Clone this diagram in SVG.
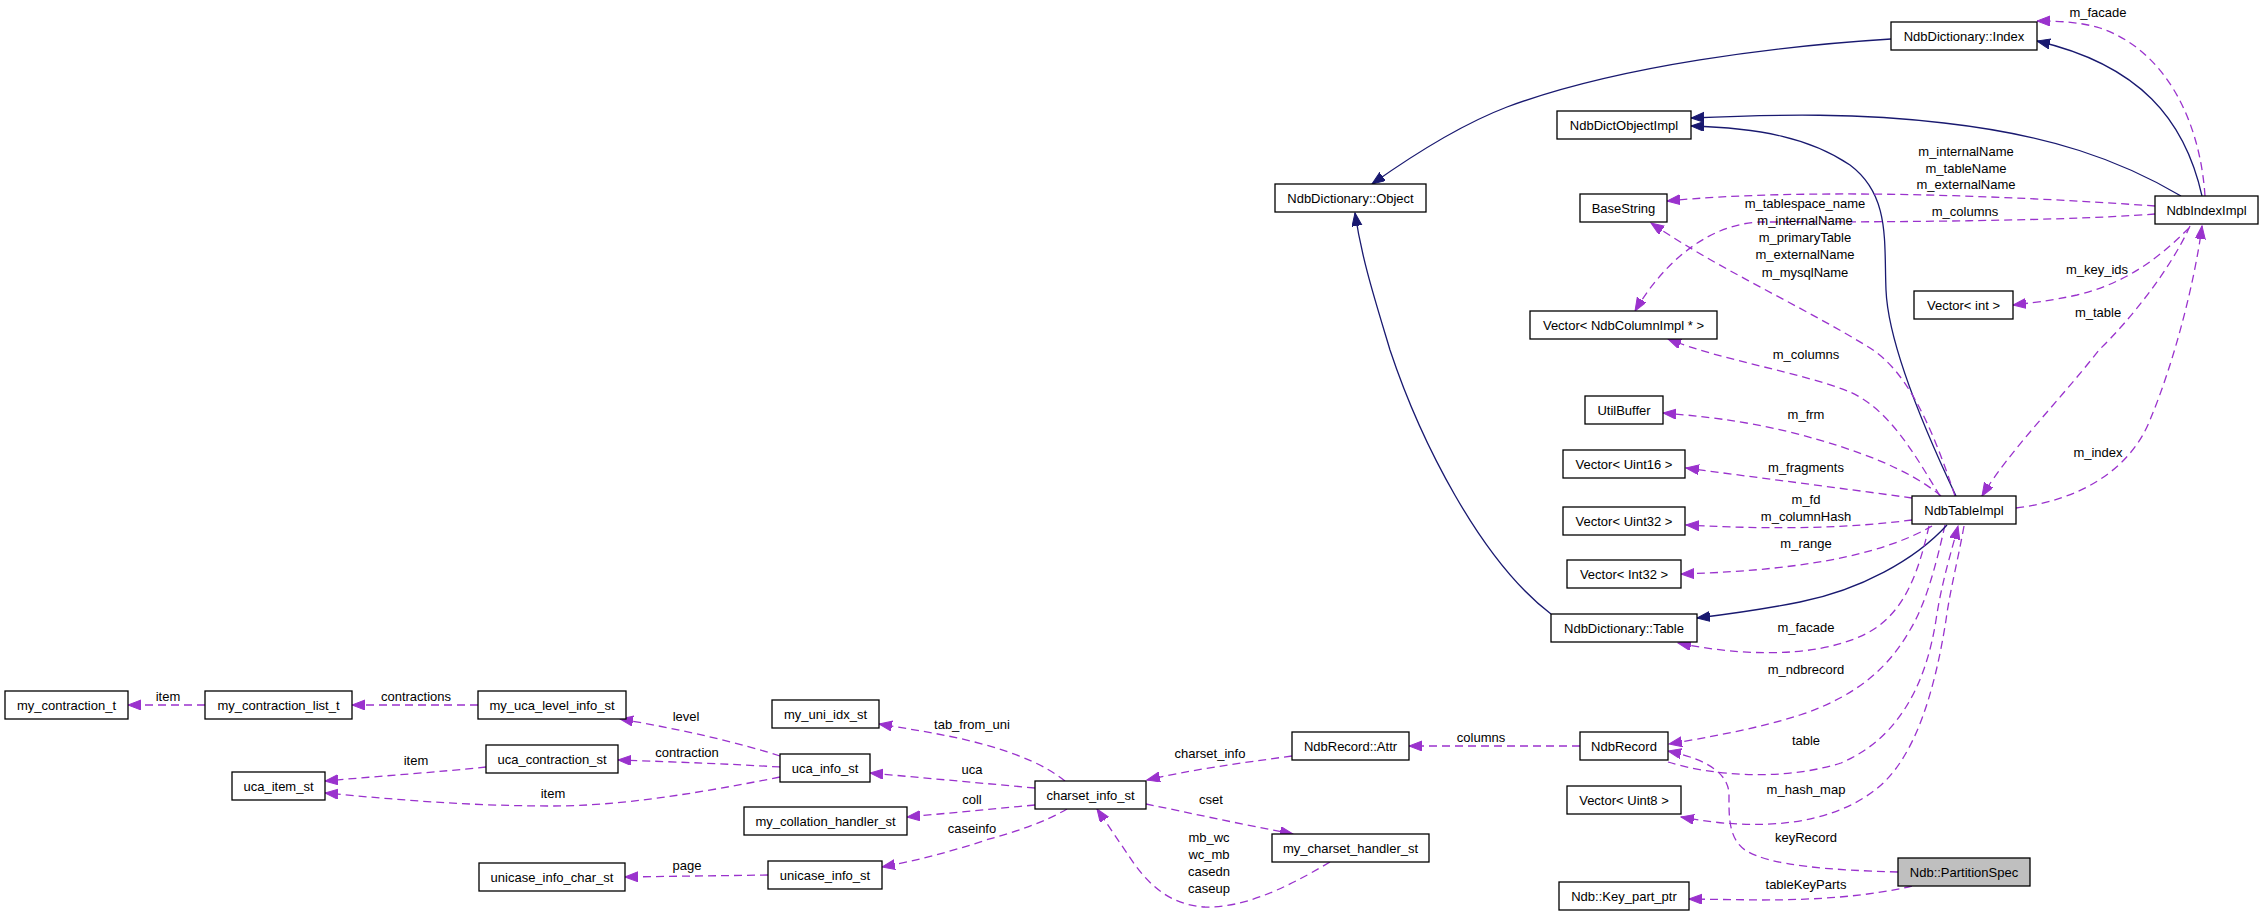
<svg xmlns="http://www.w3.org/2000/svg" width="2264" height="916" viewBox="0 0 2264 916">
<style>
.n rect{fill:#fff;stroke:#000;stroke-width:1.3}
.n.sel rect{fill:#bfbfbf}
text{font-family:"Liberation Sans",Arial,sans-serif;font-size:13px;fill:#000}
.n text{text-anchor:middle}
.lbl text,text.lbl{text-anchor:middle}
.d{fill:none;stroke:#9a32cd;stroke-width:1.3;stroke-dasharray:8,5;marker-end:url(#ap)}
.s{fill:none;stroke:#191970;stroke-width:1.3;marker-end:url(#ab)}
</style>
<defs>
<marker id="ap" markerUnits="userSpaceOnUse" markerWidth="14" markerHeight="11" refX="13" refY="5" orient="auto"><path d="M0,0 L13,5 L0,10 z" fill="#9a32cd" stroke="#9a32cd" stroke-width="1"/></marker>
<marker id="ab" markerUnits="userSpaceOnUse" markerWidth="14" markerHeight="11" refX="13" refY="5" orient="auto"><path d="M0,0 L13,5 L0,10 z" fill="#191970" stroke="#191970" stroke-width="1"/></marker>
</defs>
<rect width="2264" height="916" fill="#fff"/>
<g id="edges">
<path class="d" d="M205,705 L128,705"/>
<path class="d" d="M478,705 L352,705"/>
<path class="d" d="M486,767 C440,772 380,776 325,781"/>
<path class="d" d="M780,777 C700,793 620,806 553,806 C470,806 400,800 325,793"/>
<path class="d" d="M780,756 C740,743 680,729 620,719"/>
<path class="d" d="M780,767 C730,764 680,762 618,760"/>
<path class="d" d="M768,875 L625,877"/>
<path class="d" d="M1065,781 C1045,765 1020,755 986,745 C950,735 915,730 879,724"/>
<path class="d" d="M1035,788 L870,773"/>
<path class="d" d="M1035,805 L907,817"/>
<path class="d" d="M1067,809 C1045,822 1015,832 986,840 C950,852 915,861 882,867"/>
<path class="d" d="M1292,756 C1240,763 1190,770 1147,780"/>
<path class="d" d="M1146,804 C1190,813 1240,824 1293,834"/>
<path class="d" d="M1330,862 C1280,892 1240,908 1205,907 C1170,905 1150,885 1135,865 C1120,843 1108,825 1097,809"/>
<path class="d" d="M1580,746 L1409,746"/>
<path class="d" d="M1945,525 C1935,570 1925,605 1910,630 C1890,665 1860,695 1800,715 C1760,728 1710,737 1669,744"/>
<path class="d" d="M1668,762 C1710,775 1780,782 1841,763 C1895,740 1925,690 1936,620 C1942,580 1952,550 1958,526"/>
<path class="d" d="M1964,526 C1958,560 1950,590 1946,620 C1935,690 1915,760 1875,790 C1830,825 1760,832 1681,817"/>
<path class="d" d="M1898,872 C1830,870 1770,866 1745,850 C1728,838 1729,815 1729,795 C1729,775 1710,760 1668,751"/>
<path class="d" d="M1912,886 C1870,896 1820,900 1760,900 L1689,899"/>
<path class="s" d="M1947,525 C1915,560 1860,590 1800,602 C1760,610 1730,614 1697,618"/>
<path class="s" d="M1551,614 C1480,560 1420,440 1390,350 C1375,300 1362,260 1355,213"/>
<path class="s" d="M1891,39 C1780,46 1620,65 1507,107 C1465,123 1420,150 1372,184"/>
<path class="s" d="M2202,196 C2185,120 2140,65 2037,41"/>
<path class="d" d="M2205,196 C2200,120 2165,50 2100,28 C2080,22 2060,21 2037,21"/>
<path class="s" d="M1956,496 C1920,420 1888,340 1886,290 C1884,240 1890,195 1850,165 C1810,138 1760,128 1691,126"/>
<path class="s" d="M2181,196 C2120,160 2050,135 1944,123 C1860,113 1780,114 1691,118"/>
<path class="d" d="M2155,206 C2000,195 1800,188 1667,201"/>
<path class="d" d="M2155,214 C2050,222 1850,222 1760,222 C1710,224 1665,260 1635,311"/>
<path class="d" d="M1955,496 C1930,420 1905,370 1870,348 C1800,305 1720,270 1651,223"/>
<path class="d" d="M1940,496 C1915,455 1890,410 1850,392 C1800,372 1720,360 1668,339"/>
<path class="d" d="M1941,496 C1910,470 1860,450 1790,432 C1740,420 1700,416 1663,413"/>
<path class="d" d="M1912,498 C1840,488 1760,478 1686,468"/>
<path class="d" d="M1912,520 C1850,528 1780,530 1686,525"/>
<path class="d" d="M1932,526 C1890,550 1820,570 1681,574"/>
<path class="d" d="M1929,526 C1918,575 1905,605 1880,625 C1840,655 1760,660 1678,643"/>
<path class="d" d="M2016,508 C2080,500 2130,470 2150,420 C2175,360 2195,280 2202,226"/>
<path class="d" d="M2190,226 C2170,270 2130,320 2099,350 C2060,400 2010,450 1982,496"/>
<path class="d" d="M2189,228 C2160,257 2127,283 2077,295 C2050,301 2030,303 2013,305"/>
<g class="lbl">
<text x="168" y="700.5">item</text>
<text x="416" y="700.5">contractions</text>
<text x="416" y="764.5">item</text>
<text x="553" y="797.5">item</text>
<text x="686" y="720.5">level</text>
<text x="687" y="756.5">contraction</text>
<text x="687" y="869.5">page</text>
<text x="972" y="728.5">tab_from_uni</text>
<text x="972" y="773.5">uca</text>
<text x="972" y="803.5">coll</text>
<text x="972" y="832.5">caseinfo</text>
<text x="1210" y="757.5">charset_info</text>
<text x="1211" y="803.5">cset</text>
<text x="1209" y="841.5">mb_wc</text>
<text x="1209" y="858.5">wc_mb</text>
<text x="1209" y="876">casedn</text>
<text x="1209" y="893">caseup</text>
<text x="1481" y="741.5">columns</text>
<text x="1806" y="631.5">m_facade</text>
<text x="1806" y="673.5">m_ndbrecord</text>
<text x="1806" y="744.5">table</text>
<text x="1806" y="793.5">m_hash_map</text>
<text x="1806" y="841.5">keyRecord</text>
<text x="1806" y="888.5">tableKeyParts</text>
<text x="2098" y="16.5">m_facade</text>
<text x="1966" y="155.5">m_internalName</text>
<text x="1966" y="172.5">m_tableName</text>
<text x="1966" y="189">m_externalName</text>
<text x="1965" y="215.5">m_columns</text>
<text x="1805" y="207.5">m_tablespace_name</text>
<text x="1805" y="224.5">m_internalName</text>
<text x="1805" y="242">m_primaryTable</text>
<text x="1805" y="259">m_externalName</text>
<text x="1805" y="276.5">m_mysqlName</text>
<text x="2097" y="273.5">m_key_ids</text>
<text x="2098" y="316.5">m_table</text>
<text x="1806" y="358.5">m_columns</text>
<text x="1806" y="418.5">m_frm</text>
<text x="1806" y="471.5">m_fragments</text>
<text x="1806" y="503.5">m_fd</text>
<text x="1806" y="520.5">m_columnHash</text>
<text x="1806" y="547.5">m_range</text>
<text x="2098" y="456.5">m_index</text>
</g>
</g>
<g id="n_my_contraction_t" class="n"><rect x="5" y="691" width="123" height="28"/><text x="66.5" y="709.5">my_contraction_t</text></g>
<g id="n_my_contraction_list_t" class="n"><rect x="205" y="691" width="147" height="28"/><text x="278.5" y="709.5">my_contraction_list_t</text></g>
<g id="n_my_uca_level_info_st" class="n"><rect x="478" y="691" width="148" height="28"/><text x="552" y="709.5">my_uca_level_info_st</text></g>
<g id="n_uca_contraction_st" class="n"><rect x="486" y="745" width="132" height="28"/><text x="552" y="763.5">uca_contraction_st</text></g>
<g id="n_uca_item_st" class="n"><rect x="232" y="772" width="93" height="28"/><text x="278.5" y="790.5">uca_item_st</text></g>
<g id="n_unicase_info_char_st" class="n"><rect x="479" y="863" width="146" height="28"/><text x="552" y="881.5">unicase_info_char_st</text></g>
<g id="n_my_uni_idx_st" class="n"><rect x="772" y="700" width="107" height="28"/><text x="825.5" y="718.5">my_uni_idx_st</text></g>
<g id="n_uca_info_st" class="n"><rect x="780" y="754" width="90" height="28"/><text x="825" y="772.5">uca_info_st</text></g>
<g id="n_my_collation_handler_st" class="n"><rect x="744" y="807" width="163" height="28"/><text x="825.5" y="825.5">my_collation_handler_st</text></g>
<g id="n_unicase_info_st" class="n"><rect x="768" y="861" width="114" height="28"/><text x="825" y="879.5">unicase_info_st</text></g>
<g id="n_charset_info_st" class="n"><rect x="1035" y="781" width="111" height="28"/><text x="1090.5" y="799.5">charset_info_st</text></g>
<g id="n_NdbRecord_Attr" class="n"><rect x="1292" y="732" width="117" height="28"/><text x="1350.5" y="750.5">NdbRecord::Attr</text></g>
<g id="n_my_charset_handler_st" class="n"><rect x="1272" y="834" width="157" height="28"/><text x="1350.5" y="852.5">my_charset_handler_st</text></g>
<g id="n_NdbDictionary_Object" class="n"><rect x="1275" y="184" width="151" height="28"/><text x="1350.5" y="202.5">NdbDictionary::Object</text></g>
<g id="n_NdbDictObjectImpl" class="n"><rect x="1557" y="111" width="134" height="28"/><text x="1624" y="129.5">NdbDictObjectImpl</text></g>
<g id="n_BaseString" class="n"><rect x="1580" y="194" width="87" height="28"/><text x="1623.5" y="212.5">BaseString</text></g>
<g id="n_Vector_NdbColumnImpl" class="n"><rect x="1530" y="311" width="187" height="28"/><text x="1623.5" y="329.5">Vector&lt; NdbColumnImpl * &gt;</text></g>
<g id="n_UtilBuffer" class="n"><rect x="1585" y="396" width="78" height="28"/><text x="1624" y="414.5">UtilBuffer</text></g>
<g id="n_Vector_Uint16" class="n"><rect x="1563" y="450" width="122" height="28"/><text x="1624" y="468.5">Vector&lt; Uint16 &gt;</text></g>
<g id="n_Vector_Uint32" class="n"><rect x="1563" y="507" width="122" height="28"/><text x="1624" y="525.5">Vector&lt; Uint32 &gt;</text></g>
<g id="n_Vector_Int32" class="n"><rect x="1567" y="560" width="114" height="28"/><text x="1624" y="578.5">Vector&lt; Int32 &gt;</text></g>
<g id="n_NdbDictionary_Table" class="n"><rect x="1551" y="614" width="146" height="28"/><text x="1624" y="632.5">NdbDictionary::Table</text></g>
<g id="n_NdbRecord" class="n"><rect x="1580" y="732" width="88" height="28"/><text x="1624" y="750.5">NdbRecord</text></g>
<g id="n_Vector_Uint8" class="n"><rect x="1567" y="786" width="114" height="28"/><text x="1624" y="804.5">Vector&lt; Uint8 &gt;</text></g>
<g id="n_Ndb_Key_part_ptr" class="n"><rect x="1559" y="882" width="130" height="28"/><text x="1624" y="900.5">Ndb::Key_part_ptr</text></g>
<g id="n_NdbDictionary_Index" class="n"><rect x="1891" y="22" width="146" height="28"/><text x="1964" y="40.5">NdbDictionary::Index</text></g>
<g id="n_Vector_int" class="n"><rect x="1914" y="291" width="99" height="28"/><text x="1963.5" y="309.5">Vector&lt; int &gt;</text></g>
<g id="n_NdbTableImpl" class="n"><rect x="1912" y="496" width="104" height="28"/><text x="1964" y="514.5">NdbTableImpl</text></g>
<g id="n_Ndb_PartitionSpec" class="n sel"><rect x="1898" y="858" width="132" height="28"/><text x="1964" y="876.5">Ndb::PartitionSpec</text></g>
<g id="n_NdbIndexImpl" class="n"><rect x="2155" y="196" width="103" height="28"/><text x="2206.5" y="214.5">NdbIndexImpl</text></g>
</svg>
